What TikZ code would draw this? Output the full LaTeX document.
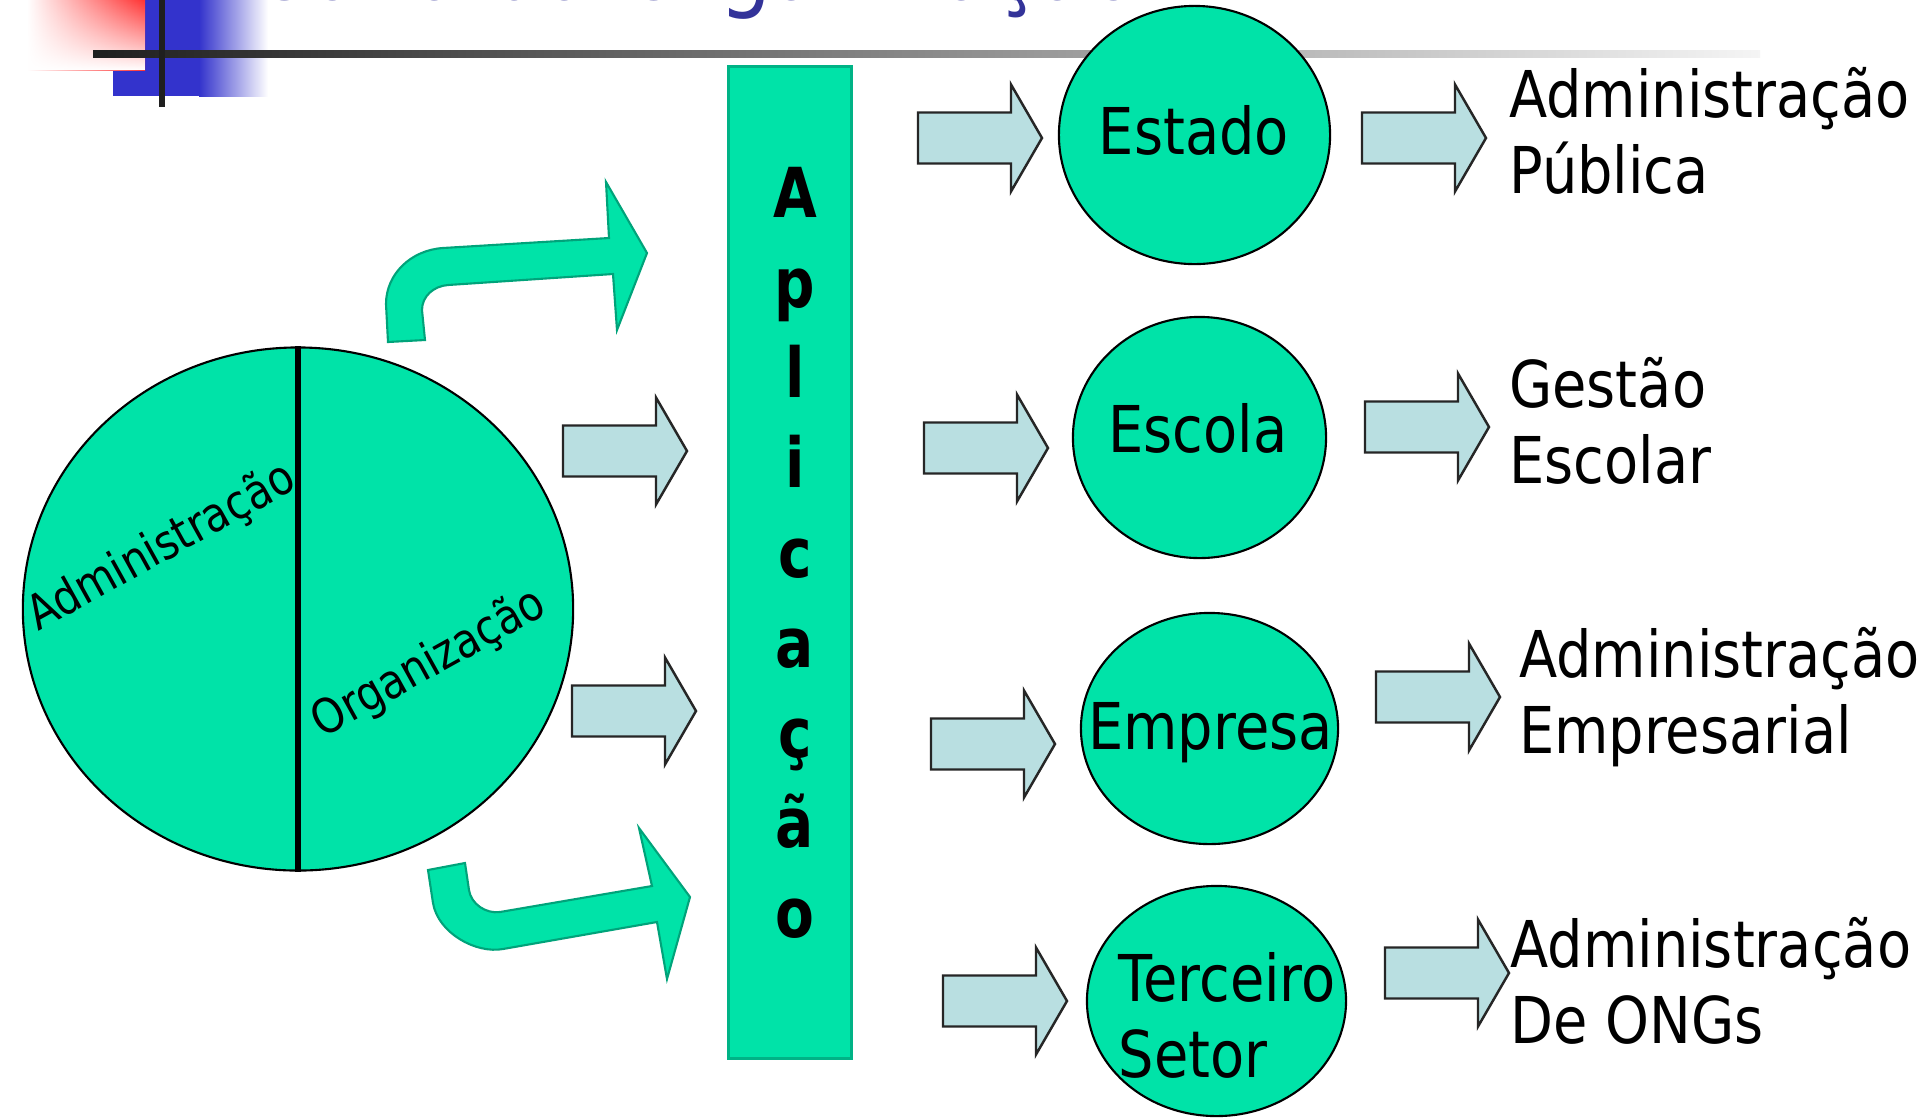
\documentclass[tikz,border=0pt]{standalone}
\usepackage{fontspec}
\setmainfont{DejaVu Sans}[FakeStretch=0.865]
\newfontfamily\stackfont{DejaVu Sans}[FakeStretch=0.82]
\usetikzlibrary{shapes.geometric,fadings}
\definecolor{mint}{HTML}{00E3A8}
\definecolor{mintdark}{HTML}{00A37A}
\definecolor{mintborder}{HTML}{00B386}
\definecolor{ablue}{HTML}{B9DFE1}
\definecolor{titleblue}{HTML}{333399}
\definecolor{decoblue}{HTML}{3333CC}
\definecolor{decored}{HTML}{FF3333}
\tikzfading[name=fadeup, top color=transparent!100, bottom color=transparent!0]
\tikzset{
  bigtxt/.style={font=\fontsize{18.35pt}{21.6pt}\selectfont, inner sep=0pt, anchor=base west},
  circtxt/.style={font=\fontsize{18.35pt}{21.6pt}\selectfont, inner sep=0pt, anchor=base},
  halftxt/.style={font=\fontsize{13.6pt}{16pt}\selectfont, inner sep=0pt, anchor=base west, rotate=29},
  stackletter/.style={font=\stackfont\bfseries\fontsize{19.6pt}{22pt}\selectfont, inner sep=0pt, anchor=base},
  bubble/.style={ellipse, draw=black, line width=0.6pt, fill=mint, inner sep=0pt},
  flatarrow/.style={fill=ablue, draw=black!85, line width=0.7pt, line join=miter},
  bendarrow/.style={fill=mint, draw=mintdark, line width=0.6pt, line join=miter},
  pics/blockarrow/.style={code={\path[flatarrow] (0,-25.5) -- (93,-25.5) -- (93,-53.5) -- (124,0) -- (93,53.5) -- (93,25.5) -- (0,25.5) -- cycle;}}
}
\begin{document}
\begin{tikzpicture}[x=0.01cm,y=-0.01cm]
\useasboundingbox (0,0) rectangle (1920,1117);
\fill[white] (0,0) rectangle (1920,1117);
\begin{scope}
\clip (0,0) rectangle (1920,1117);
% top-left decoration
\fill[decoblue] (113,0) rectangle (200,96);
\shade[left color=decoblue, right color=white] (199,0) rectangle (268,96);
\shade[left color=white, right color=decored] (27,0) rectangle (145,70);
\fill[white, path fading=fadeup] (27,0) rectangle (145,70);
\shade[left color=black!88, right color=black!4] (93,50) rectangle (1760,57);
\fill[black!88] (159,0) rectangle (165,107);
\node[anchor=base west, inner sep=0pt, text=titleblue, font=\fontsize{27.2pt}{30pt}\selectfont] (title) at (219,-0.5) {Teoria da Organização};

% left circle
\node[bubble, minimum width=5.5cm, minimum height=5.228cm] (core) at (298,609) {};
\node[halftxt] (adm) at (38,632) {Administração};
\node[halftxt] (org) at (322,739) {Organização};
\draw[line width=1.8pt] (core.north) -- (core.south);

% curved arrows
\path[bendarrow] (388,342) -- (386,304) .. controls (386,274) and (411,250) .. (443,248) -- (609,238) -- (606,182) -- (647,253) -- (617,330) -- (613,274) -- (448,285) .. controls (434,286) and (422,296) .. (422,310) -- (425,340) -- cycle;
\path[bendarrow] (428,870) -- (433,903) .. controls (438,933) and (476,954) .. (503,949) -- (657,922) -- (667,979) -- (690,897) -- (639,828) -- (652,886) -- (500,912) .. controls (486,914) and (471,904) .. (469,890) -- (465,863) -- cycle;

% block arrows
\pic (a1) at (563,451) {blockarrow};
\pic (a2) at (572,711) {blockarrow};
\pic (b1) at (918,138) {blockarrow};
\pic (b2) at (924,448) {blockarrow};
\pic (b3) at (931,744) {blockarrow};
\pic (b4) at (943,1001) {blockarrow};
\pic (c1) at (1362,138) {blockarrow};
\pic (c2) at (1365,427) {blockarrow};
\pic (c3) at (1376,697) {blockarrow};
\pic (c4) at (1385,973) {blockarrow};

% Aplicação bar
\node[draw=mintborder, fill=mint, line width=0.8pt, minimum width=1.224cm, minimum height=9.91cm, inner sep=0pt] (aplic) at (790,562.5) {};
\foreach \ch [count=\k] in {A,p,l,i,c,a,ç,ã,o}
  \node[stackletter] (ap\k) at (795,{217+90*(\k-1)}) {\ch};

% circles
\node[bubble, minimum width=2.71cm, minimum height=2.58cm] (estado) at (1194.5,135) {};
\node[bubble, minimum width=2.53cm, minimum height=2.41cm] (escola) at (1199.5,437.5) {};
\node[bubble, minimum width=2.57cm, minimum height=2.31cm] (empresa) at (1209.5,728.5) {};
\node[bubble, minimum width=2.59cm, minimum height=2.30cm] (terceiro) at (1216.5,1001) {};
\node[circtxt] (estadotxt) at (1194,154.5) {Estado};
\node[circtxt] (escolatxt) at (1198,452) {Escola};
\node[circtxt] (empresatxt) at (1210.5,749.5) {Empresa};
\node[bigtxt] (tsa) at (1118,1001.6) {Terceiro};
\node[bigtxt] (tsb) at (1118,1077.6) {Setor};

% right texts
\node[bigtxt] (r1a) at (1508.6,117.5) {Administração};
\node[bigtxt] (r1b) at (1508.6,193.5) {Pública};
\node[bigtxt] (r2a) at (1508.6,407.8) {Gestão};
\node[bigtxt] (r2b) at (1508.6,483.7) {Escolar};
\node[bigtxt] (r3a) at (1518.4,677) {Administração};
\node[bigtxt] (r3b) at (1518.4,753) {Empresarial};
\node[bigtxt] (r4a) at (1509.8,967.4) {Administração};
\node[bigtxt] (r4b) at (1509.8,1043.3) {De ONGs};
\end{scope}
\end{tikzpicture}
\end{document}
